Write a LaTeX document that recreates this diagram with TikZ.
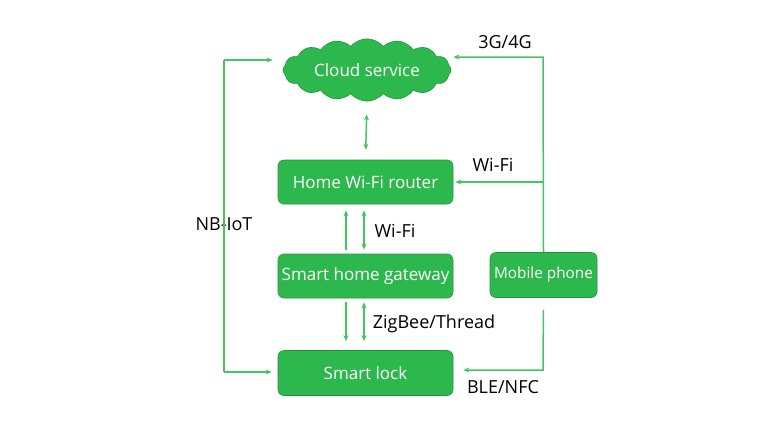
\documentclass[tikz,border=0pt]{standalone}
\usepackage{fontspec}
\setmainfont{Open Sans}
\usetikzlibrary{shapes.symbols,arrows.meta}
\definecolor{boxgreen}{RGB}{45,184,77}
\definecolor{boxedge}{RGB}{30,150,60}
\definecolor{linegreen}{RGB}{70,196,98}
\tikzset{
  stepbox/.style={draw=boxedge, line width=0.6pt, fill=boxgreen, rounded corners=6pt, text=white, font=\fontsize{17}{19}\selectfont, minimum width=175pt, minimum height=44pt, inner sep=0pt},
  cloudbox/.style={cloud, cloud puffs=16, cloud puff arc=100, aspect=3, draw=boxedge, line width=0.6pt, fill=boxgreen, text=white, font=\fontsize{17}{19}\selectfont, minimum width=168pt, minimum height=58pt, inner sep=0pt},
  conn/.style={draw=linegreen, line width=1.5pt},
  arr/.style={conn, -{Stealth[length=6pt,width=5pt]}},
  dbl/.style={conn, {Stealth[length=6pt,width=5pt]}-{Stealth[length=6pt,width=5pt]}},
  lbl/.style={text=black, font=\fontsize{18}{20}\selectfont, inner sep=0pt}
}
\begin{document}
\begin{tikzpicture}[x=1pt,y=-1pt]
\useasboundingbox (0,0) rectangle (768,432);
\node[cloudbox] (cloud) at (367,70) {Cloud service};
\node[stepbox] (router) at (365.5,182) {Home Wi-Fi router};
\node[stepbox] (gateway) at (365.5,276) {Smart home gateway};
\node[stepbox, minimum height=45pt] (lock) at (365.5,373) {Smart lock};
\node[stepbox, minimum width=107pt, minimum height=45pt, font=\fontsize{15.3}{17}\selectfont] (phone) at (543.5,275) {Mobile phone};
% labels
\node[lbl] (l3g) at (505,42) {3G/4G};
\node[lbl] (lwifi1) at (493,165) {Wi-Fi};
\node[lbl] (lwifi2) at (395,231) {Wi-Fi};
\node[lbl] (lnb) at (224,224) {NB-IoT};
\node[lbl] (lzig) at (434,324) {ZigBee/Thread};
\node[lbl] (lble) at (503,387) {BLE/NFC};
% coordinates
\coordinate (nbtop) at (224,60);
\coordinate (nbbot) at (224,372);
\coordinate (mtop) at (543,57);
\coordinate (mbot) at (543,370);
% left NB-IoT path
\draw[conn] (nbbot) -- (nbtop);
\draw[arr, shorten >=10pt] (nbtop) -- (nbtop -| cloud.west);
\draw[arr, shorten >=6pt] (nbbot) -- (nbbot -| lock.west);
% right mobile paths
\draw[arr, shorten >=2pt] (phone.north) -- (mtop) -- (mtop -| cloud.east);
\draw[arr, shorten >=2pt] (phone.north |- router.east) -- (router.east);
\draw[arr, shorten <=12pt, shorten >=10pt] (phone.south) -- (mbot) -- (mbot -| lock.east);
% vertical links
\draw[dbl, shorten <=13pt, shorten >=10pt] (cloud.south) -- (router.north);
\draw[arr, shorten <=4pt, shorten >=6pt] ([xshift=-19.5pt]gateway.north) -- ([xshift=-19.5pt]router.south);
\draw[dbl, shorten <=6pt, shorten >=4pt] ([xshift=-1.5pt]router.south) -- ([xshift=-1.5pt]gateway.north);
\draw[arr, shorten <=4pt, shorten >=9pt] ([xshift=-19.5pt]gateway.south) -- ([xshift=-19.5pt]lock.north);
\draw[dbl, shorten <=4pt, shorten >=9pt] ([xshift=-1.5pt]gateway.south) -- ([xshift=-1.5pt]lock.north);
\end{tikzpicture}
\end{document}
